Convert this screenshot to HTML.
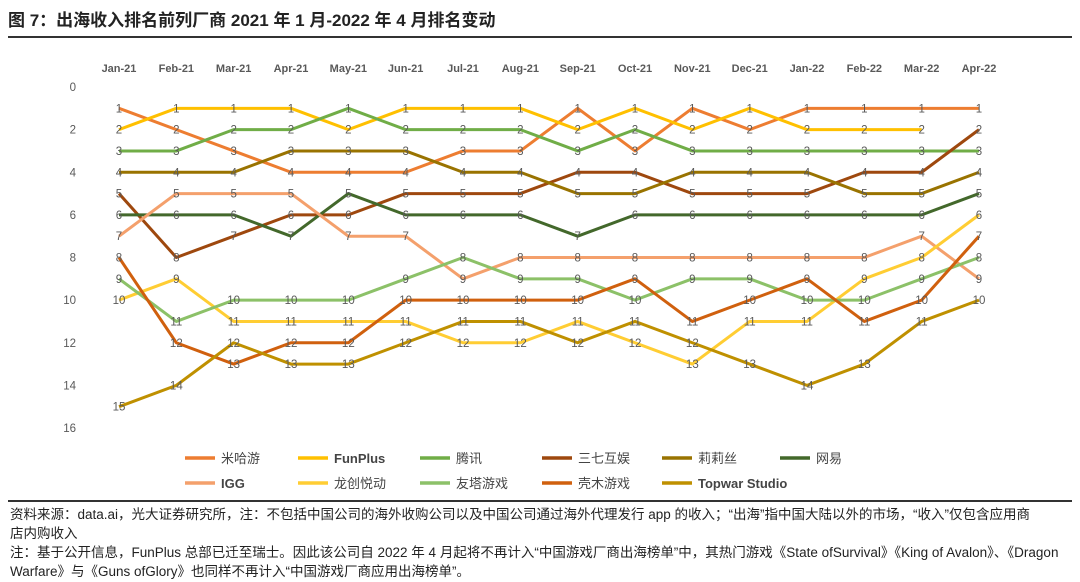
<!DOCTYPE html>
<html><head><meta charset="utf-8">
<style>
body{margin:0;width:1080px;height:582px;background:#fff;overflow:hidden;font-family:"Liberation Sans","Noto Sans CJK SC",sans-serif;position:relative}
.title{position:absolute;left:8px;top:6px;font-size:17px;font-weight:bold;color:#222}
.rule{position:absolute;left:8px;width:1064px;height:2px;background:#333}
.foot{position:absolute;left:10px;top:505px;font-size:13.5px;line-height:19px;color:#222;width:1070px;white-space:nowrap}
</style></head><body>
<div class="title">图 7：出海收入排名前列厂商 2021 年 1 月-2022 年 4 月排名变动</div>
<div class="rule" style="top:36px"></div>
<svg id="chart" width="1080" height="500" style="position:absolute;left:0;top:0"></svg>
<div class="rule" style="top:500px;height:1.5px"></div>
<div class="foot">资料来源：data.ai，光大证券研究所，注：不包括中国公司的海外收购公司以及中国公司通过海外代理发行 app 的收入；“出海”指中国大陆以外的市场，“收入”仅包含应用商<br>店内购收入<br>注：基于公开信息，FunPlus 总部已迁至瑞士。因此该公司自 2022 年 4 月起将不再计入“中国游戏厂商出海榜单”中，其热门游戏《State ofSurvival》《King of Avalon》、《Dragon<br>Warfare》与《Guns ofGlory》也同样不再计入“中国游戏厂商应用出海榜单”。</div>
<script>
const categories=["Jan-21","Feb-21","Mar-21","Apr-21","May-21","Jun-21","Jul-21","Aug-21","Sep-21","Oct-21","Nov-21","Dec-21","Jan-22","Feb-22","Mar-22","Apr-22"];
const yTicks=[0,2,4,6,8,10,12,16,14];
const names=["米哈游","FunPlus","腾讯","三七互娱","莉莉丝","网易","IGG","龙创悦动","友塔游戏","壳木游戏","Topwar Studio"];
const colors=["#ED7D31","#FFC000","#70AD47","#9E480E","#997300","#43682B","#F4A06C","#FFCD33","#8CC168","#D0600E","#BF9000"];
const sMihoyo=[1,2,3,4,4,4,3,3,1,3,1,2,1,1,1,1];
const sFunPlus=[2,1,1,1,2,1,1,1,2,1,2,1,2,2,2,null];
const sTencent=[3,3,2,2,1,2,2,2,3,2,3,3,3,3,3,3];
const s37=[5,8,7,6,6,5,5,5,4,4,5,5,5,4,4,2];
const sLilith=[4,4,4,3,3,3,4,4,5,5,4,4,4,5,5,4];
const sNetease=[6,6,6,7,5,6,6,6,7,6,6,6,6,6,6,5];
const sIGG=[7,5,5,5,7,7,9,8,8,8,8,8,8,8,7,9];
const sLongchuang=[10,9,11,11,11,11,12,12,11,12,13,11,11,9,8,6];
const sYouta=[9,11,10,10,10,9,8,9,9,10,9,9,10,10,9,8];
const sKemu=[8,12,13,12,12,10,10,10,10,9,11,10,9,11,10,7];
const sTopwar=[15,14,12,13,13,12,11,11,12,11,12,13,14,13,11,10];
const series=[sMihoyo,sFunPlus,sTencent,s37,sLilith,sNetease,sIGG,sLongchuang,sYouta,sKemu,sTopwar];

const NS="http://www.w3.org/2000/svg";
const svg=document.getElementById('chart');
const x=i=>119+i*(979-119)/(categories.length-1);
const y=v=>87+v*(428-87)/16;
function mk(t,a){const e=document.createElementNS(NS,t);for(const k in a)e.setAttribute(k,a[k]);svg.appendChild(e);return e;}
categories.forEach((c,i)=>{const t=mk('text',{x:x(i),y:72,'text-anchor':'middle','font-size':11,'font-weight':'bold',fill:'#595959'});t.textContent=c;

});
yTicks.forEach(v=>{const t=mk('text',{x:76,y:y(v)+4,'text-anchor':'end','font-size':11.5,fill:'#595959'});t.textContent=v;

});
series.forEach((s,k)=>{let d='';let pen=false;s.forEach((v,i)=>{if(v==null){pen=false;return;}d+=(pen?'L':'M')+x(i)+','+y(v);pen=true;});
const p=mk('path',{d:d,fill:'none',stroke:colors[k],'stroke-width':3,'stroke-linejoin':'round'});

});
series.forEach((s,k)=>{s.forEach((v,i)=>{if(v==null)return;const t=mk('text',{x:x(i),y:y(v)+4,'text-anchor':'middle','font-size':11.5,fill:'#595959'});t.textContent=v;

});});
const lx=[185,298,420,542,662,780];
names.forEach((n,k)=>{const r=Math.floor(k/6),c=k%6;const yy=r?483:458;
const l=mk('line',{x1:lx[c],x2:lx[c]+30,y1:yy,y2:yy,stroke:colors[k],'stroke-width':3.5});


const t=mk('text',{x:lx[c]+36,y:yy+5,'font-size':13,fill:'#444','font-weight':/^[A-Z]/.test(n)?'bold':'normal'});t.textContent=n;

});
</script>
</body></html>
